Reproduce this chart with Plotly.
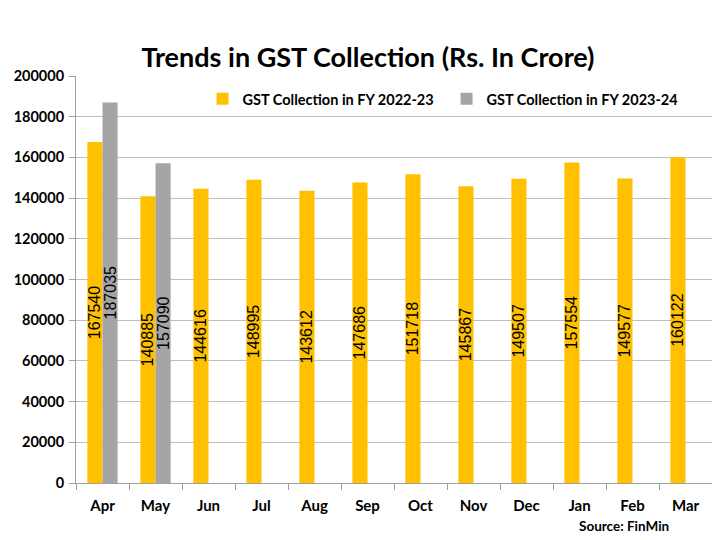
import plotly.graph_objects as go

months = ["Apr", "May", "Jun", "Jul", "Aug", "Sep", "Oct", "Nov", "Dec", "Jan", "Feb", "Mar"]
fy2223 = [167540, 140885, 144616, 148995, 143612, 147686, 151718, 145867, 149507, 157554, 149577, 160122]
fy2324 = [187035, 157090, None, None, None, None, None, None, None, None, None, None]

FONT = "Lato"

fig = go.Figure()
fig.add_trace(go.Bar(
    x=months, y=fy2223, name="GST Collection in FY 2022-23",
    marker=dict(color="#FFC000", line=dict(width=0)),
    text=[str(v) for v in fy2223], textposition="inside", textangle=-90,
    insidetextanchor="middle",
    textfont=dict(family="Liberation Sans", size=16, color="black"),
))
fig.add_trace(go.Bar(
    x=months, y=fy2324, name="GST Collection in FY 2023-24",
    marker=dict(color="#A5A5A5", line=dict(width=0)),
    text=[str(v) if v is not None else "" for v in fy2324], textposition="inside", textangle=-90,
    insidetextanchor="middle",
    textfont=dict(family="Liberation Sans", size=16, color="black"),
))

fig.update_layout(
    width=720, height=540,
    margin=dict(l=68, r=16, t=68, b=65, autoexpand=False),
    paper_bgcolor="white", plot_bgcolor="white",
    barmode="group", bargap=0.43, bargroupgap=0,
    uniformtext=dict(minsize=16, mode="show"),
    title=dict(text="<b>Trends in GST Collection (Rs. In Crore)</b>",
               x=0.5, xanchor="center", y=0.909, yanchor="middle",
               font=dict(family=FONT, size=27, color="black")),
    legend=dict(orientation="h", x=0.199, y=0.983, xanchor="left", yanchor="top",
                font=dict(family=FONT, size=14.5, color="black", weight="bold"),
                bgcolor="rgba(0,0,0,0)", itemwidth=30, entrywidth=199, tracegroupgap=0),
    showlegend=True,
    annotations=[dict(text="<b>Source: FinMin</b>", xref="paper", yref="paper",
                      x=0.936, y=-0.106, xanchor="right", yanchor="middle", showarrow=False,
                      font=dict(family=FONT, size=13.5, color="black"))],
)
fig.update_xaxes(
    automargin=False,
    showline=True, linecolor="#A0A0A0", linewidth=1,
    ticks="outside", tickson="boundaries", ticklen=6, tickcolor="#A0A0A0",
    tickfont=dict(family=FONT, size=15, color="black", weight="bold"),
    ticklabelstandoff=9,
    showgrid=False,
)
fig.update_yaxes(
    automargin=False,
    range=[0, 200000], dtick=20000, tickformat="d",
    showline=True, linecolor="#A0A0A0", linewidth=1,
    ticks="outside", ticklen=6, tickcolor="#A0A0A0",
    showgrid=True, gridcolor="#BFBFBF", gridwidth=1,
    tickfont=dict(family=FONT, size=14.5, color="black", weight="bold"),
    ticklabelstandoff=2,
    zeroline=False,
)

fig.write_html("out.html")
